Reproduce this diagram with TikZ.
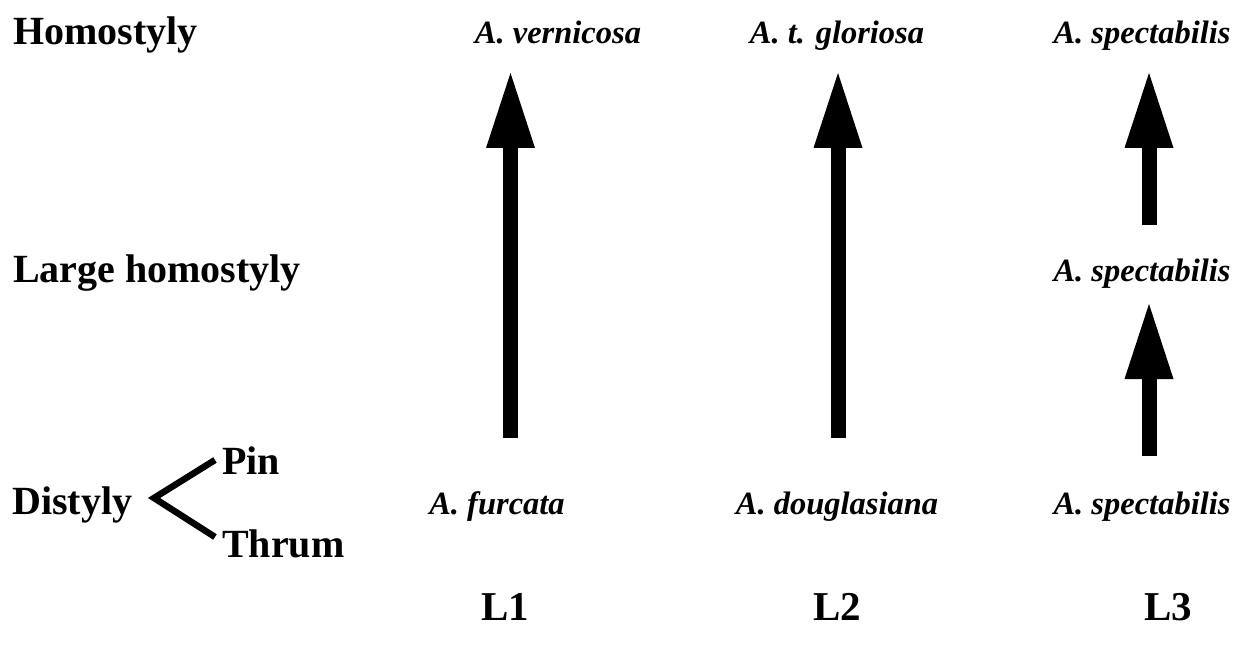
\documentclass[tikz,border=0pt]{standalone}
\usepackage{fontspec}
\setmainfont{Liberation Serif}
\usetikzlibrary{arrows.meta}
\begin{document}
\begin{tikzpicture}[x=1pt,y=-1pt,
  lvl/.style={inner sep=0pt,anchor=base west,font=\fontsize{40}{44}\selectfont\bfseries},
  sp/.style={inner sep=0pt,anchor=base,font=\fontsize{32.5}{38}\selectfont\bfseries\itshape},
  lin/.style={inner sep=0pt,anchor=base,font=\fontsize{41}{44}\selectfont\bfseries},
  bigarrow/.style={line width=15pt,-{Triangle[width=49pt,length=75pt,line width=0pt]}},
  branch/.style={line width=6.5pt,line join=miter}]
\useasboundingbox (0,0) rectangle (1242,647);
% level labels
\node[lvl] (homo) at (13,45) {Homostyly};
\node[lvl] (large) at (13,282) {Large homostyly};
\node[lvl] (dist) at (12,514) {Distyly};
\node[lvl] (pin) at (222,474) {Pin};
\node[lvl] (thrum) at (222,557) {Thrum};
\coordinate (bv) at (154,498);
\coordinate (bt) at (215,460);
\coordinate (bb) at (215,537);
\draw[branch] (bt) -- (bv) -- (bb);
% species
\node[sp] (vern) at (558,44) {A. vernicosa};
\node[sp] (glor) at (837,44) {A. t. gloriosa};
\node[sp] (spec1) at (1142,44) {A. spectabilis};
\node[sp] (spec2) at (1142,281) {A. spectabilis};
\node[sp] (furc) at (497,514) {A. furcata};
\node[sp] (doug) at (837,514) {A. douglasiana};
\node[sp] (spec3) at (1142,514) {A. spectabilis};
% lineage labels
\node[lin] (l1) at (505,620) {L1};
\node[lin] (l2) at (837,620) {L2};
\node[lin] (l3) at (1168,620) {L3};
% arrows
\coordinate (a1s) at (510.5,438);
\coordinate (a1e) at (510.5,73);
\coordinate (a2s) at (838,438);
\coordinate (a2e) at (838,73);
\coordinate (a3s) at (1149,225);
\coordinate (a3e) at (1149,73);
\coordinate (a4s) at (1149,456);
\coordinate (a4e) at (1149,304);
\draw[bigarrow] (a1s) -- (a1e);
\draw[bigarrow] (a2s) -- (a2e);
\draw[bigarrow] (a3s) -- (a3e);
\draw[bigarrow] (a4s) -- (a4e);
\end{tikzpicture}
\end{document}
